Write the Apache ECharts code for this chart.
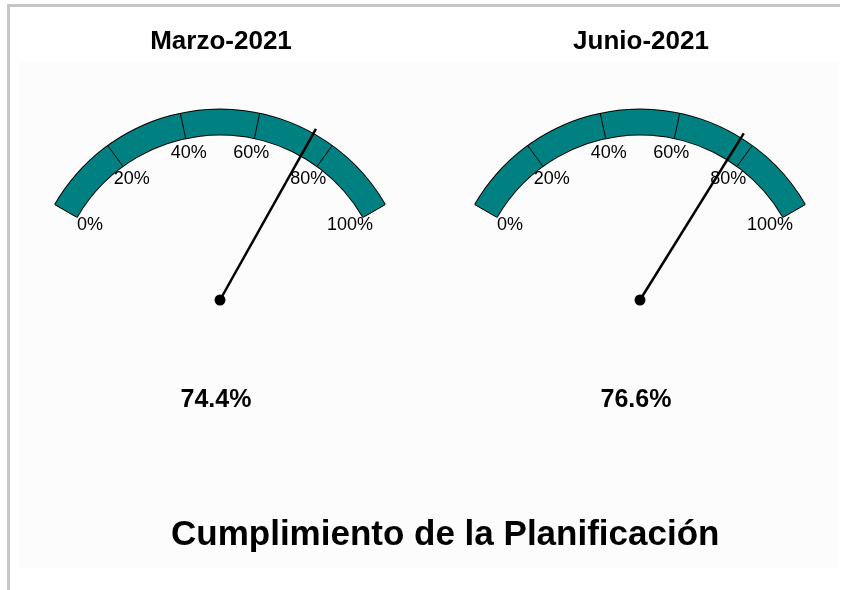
<!DOCTYPE html>
<html>
<head>
<meta charset="utf-8">
<script src="https://cdn.jsdelivr.net/npm/echarts@6/dist/echarts.min.js"></script>
<style>
  html, body { margin: 0; padding: 0; background: #fff; }
  #chart { width: 841px; height: 590px; }
</style>
</head>
<body>
<div id="chart"></div>
<script>
// data
const periods = ['Marzo-2021', 'Junio-2021'];
const compliance = [74.4, 76.6];
const chartTitle = 'Cumplimiento de la Planificación';

const font = 'Liberation Sans, Arial, sans-serif';
const teal = '#008080';
const centers = [[220, 300], [640, 300]];

const myChart = echarts.init(document.getElementById('chart'));

function ringSeries(center) {
  // black ring under the teal band, gives the outline
  return {
    type: 'gauge',
    center: center,
    radius: 191.5,
    startAngle: 150,
    endAngle: 30,
    silent: true,
    axisLine: { lineStyle: { width: 27, color: [[1, '#000']] } },
    splitLine: { show: false },
    axisTick: { show: false },
    axisLabel: { show: false },
    pointer: { show: false },
    anchor: { show: false },
    title: { show: false },
    detail: { show: false },
    data: []
  };
}

function gaugeSeries(i) {
  return {
    type: 'gauge',
    center: centers[i],
    radius: 190.5,
    startAngle: 150,
    endAngle: 30,
    min: 0,
    max: 100,
    splitNumber: 5,
    axisLine: { lineStyle: { width: 25, color: [[1, teal]] } },
    splitLine: { distance: -25, length: 25, lineStyle: { color: '#000', width: 1 } },
    axisTick: { show: false },
    axisLabel: {
      distance: 40.5,
      rotate: 0.001, // tiny rotation so labels are centred on the tick
      color: '#000',
      fontSize: 18,
      fontFamily: font,
      formatter: v => v + '%'
    },
    pointer: {
      icon: 'rect',
      length: '103%',
      width: 2.5,
      offsetCenter: [0, 0],
      itemStyle: { color: '#000' }
    },
    anchor: { show: true, size: 11, showAbove: true, itemStyle: { color: '#000' } },
    title: {
      offsetCenter: [1, -258],
      color: '#000',
      fontSize: 26,
      fontWeight: 'bold',
      fontFamily: font
    },
    detail: {
      offsetCenter: [-4, 100],
      color: '#000',
      fontSize: 25,
      fontWeight: 'bold',
      fontFamily: font,
      formatter: v => v.toFixed(1) + '%'
    },
    data: [{ value: compliance[i], name: periods[i] }]
  };
}

const option = {
  backgroundColor: '#fff',
  animation: false,
  title: {
    text: chartTitle,
    left: 166,
    top: 513,
    textStyle: { color: '#000', fontSize: 35, fontWeight: 'bold', fontFamily: font }
  },
  graphic: [
    { type: 'rect', silent: true, z: -10, shape: { x: 19, y: 62, width: 422, height: 506 }, style: { fill: '#fcfcfc' } },
    { type: 'rect', silent: true, z: -10, shape: { x: 441, y: 62, width: 397, height: 506 }, style: { fill: '#fcfcfc' } },
    { type: 'line', silent: true, shape: { x1: 7, y1: 5.5, x2: 840, y2: 5.5 }, style: { stroke: '#c6c6c6', lineWidth: 3 } },
    { type: 'line', silent: true, shape: { x1: 8.5, y1: 4, x2: 8.5, y2: 590 }, style: { stroke: '#c6c6c6', lineWidth: 3 } }
  ],
  series: [
    ringSeries(centers[0]),
    ringSeries(centers[1]),
    gaugeSeries(0),
    gaugeSeries(1)
  ]
};

myChart.setOption(option);
</script>
</body>
</html>
